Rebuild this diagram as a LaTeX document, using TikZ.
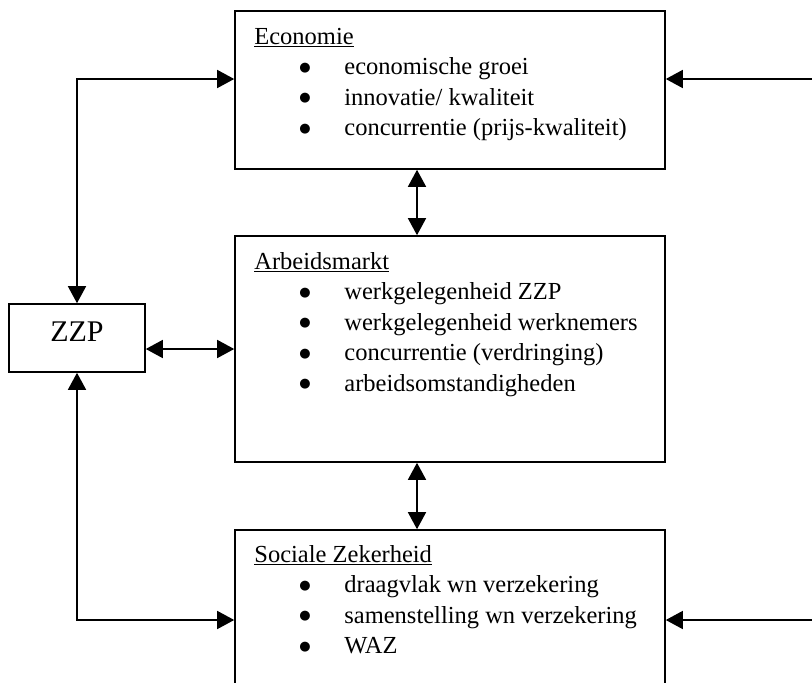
\documentclass[tikz,border=0pt]{standalone}
\usepackage{fontspec}
\setmainfont{Liberation Serif}
\newfontfamily\puntfont{DejaVu Sans}
\usetikzlibrary{arrows.meta}
\newcommand{\punt}[1]{\hspace*{45pt}\makebox[45pt][l]{\raisebox{3.6pt}{\fontsize{13}{13}\puntfont ●}}#1}

\begin{document}
\begin{tikzpicture}[x=1pt,y=-1pt]
		\clip (0,0) rectangle (812,683);
		\begin{scope}[every node/.style={rectangle,draw,line width=1.6pt,minimum width=430pt,inner sep=0pt}]
			\node[minimum height=158pt] (econ) at (450,90) {};
			\node[minimum height=226pt] (arbeid) at (450,349) {};
			\node[minimum height=180pt] (soc) at (450,620) {};
			\node[minimum width=136pt,minimum height=68pt,text depth=12pt,
			      font=\fontsize{30}{36}\selectfont] (zzp) at (77,338) {ZZP};
		\end{scope}

		\begin{scope}[every node/.style={anchor=north west,align=left,inner sep=0pt,
		              font=\fontsize{24.5}{30.5}\selectfont}]
			\node (econ-tekst) at ([xshift=20pt,yshift=-12.6pt]econ.north west)
				{\strut\underline{Economie}\\ \punt{economische groei}\\
				 \punt{innovatie/ kwaliteit}\\ \punt{concurrentie (prijs-kwaliteit)}};
			\node (arbeid-tekst) at ([xshift=20pt,yshift=-12.6pt]arbeid.north west)
				{\strut\underline{Arbeidsmarkt}\\ \punt{werkgelegenheid ZZP}\\
				 \punt{werkgelegenheid werknemers}\\ \punt{concurrentie (verdringing)}\\
				 \punt{arbeidsomstandigheden}};
			\node (soc-tekst) at ([xshift=20pt,yshift=-11.6pt]soc.north west)
				{\strut\underline{Sociale Zekerheid}\\ \punt{draagvlak wn verzekering}\\
				 \punt{samenstelling wn verzekering}\\ \punt{WAZ}};
		\end{scope}

		\coordinate (rechts-econ) at (815,79);
		\coordinate (rechts-soc) at (815,620);

		\begin{scope}[>={Triangle[length=17pt,width=18pt]},line width=1.5pt]
			\draw[<->] ([yshift=11pt]econ.west) -| (zzp.north);
			\draw[<->] (zzp.south) |- (soc.west);
			\draw[<->] (zzp.east |- arbeid.west) -- (arbeid.west);
			\draw[<->] ([xshift=-33pt]econ.south) -- ([xshift=-33pt]arbeid.north);
			\draw[<->] ([xshift=-33pt]arbeid.south) -- ([xshift=-33pt]soc.north);
			\draw[->] (rechts-econ) -- (econ.east |- rechts-econ);
			\draw[->] (rechts-soc) -- (soc.east);
		\end{scope}
		\end{tikzpicture}
\end{document}
